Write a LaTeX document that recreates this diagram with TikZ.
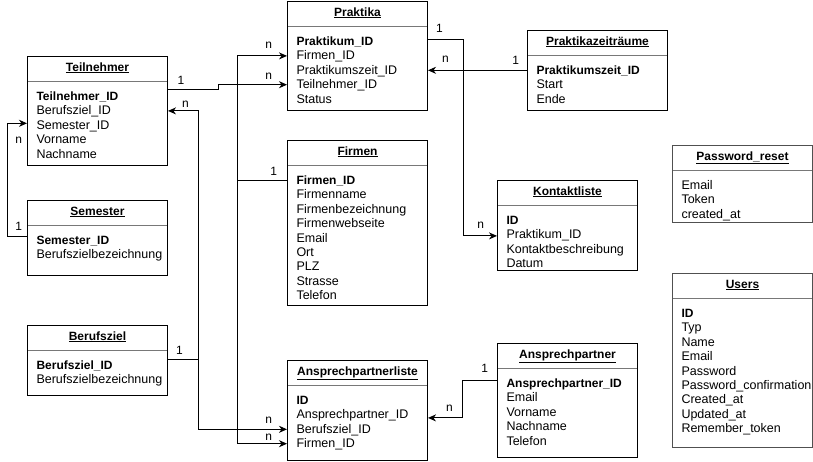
\documentclass[tikz,border=0pt]{standalone}
\usepackage{fontspec}
\setmainfont{Liberation Sans}
\usetikzlibrary{arrows.meta,positioning}
\definecolor{sepgray}{RGB}{120,120,120}
\definecolor{boxgray}{RGB}{80,80,80}
\newcommand{\pkey}[1]{{\fontsize{12}{14}\selectfont\bfseries #1}}

\begin{document}
\begin{tikzpicture}[x=1pt, y=-1pt, line width=1pt,
  font=\fontsize{12}{14}\selectfont,
  table/.style={draw, anchor=north west, minimum width=140pt, inner sep=0pt},
  title/.style={inner sep=0pt, text height=9pt, text depth=3pt, font=\fontsize{12}{14}\selectfont\bfseries},
  field/.style={anchor=west, inner sep=0pt, text height=9pt, text depth=3pt, font=\fontsize{12.5}{14}\selectfont},
  sep/.style={sepgray, line width=0.8pt},
  rel/.style={-{Stealth[length=8pt, width=7pt, inset=2.5pt]}},
  card/.style={inner sep=0pt, text height=9pt, text depth=0pt}]

  \useasboundingbox (0,0) rectangle (813,461);

  % ---------------- tables ----------------
  \node[table, minimum height=109pt] (praktika) at (287,1) {};
  \node[title] (praktika-t) at ([yshift=-12pt]praktika.north) {\underline{Praktika}};
  \foreach \f [count=\i] in {\pkey{Praktikum\_ID}, Firmen\_ID, Praktikumszeit\_ID, Teilnehmer\_ID, Status}
    \node[field] (praktika-\i) at ([xshift=9pt, yshift={-41.5pt-(\i-1)*14.4pt}]praktika.north west) {\f};

  \node[table, minimum height=109pt] (teilnehmer) at (27,56) {};
  \node[title] (teilnehmer-t) at ([yshift=-12pt]teilnehmer.north) {\underline{Teilnehmer}};
  \foreach \f [count=\i] in {\pkey{Teilnehmer\_ID}, Berufsziel\_ID, Semester\_ID, Vorname, Nachname}
    \node[field] (teilnehmer-\i) at ([xshift=9pt, yshift={-41.5pt-(\i-1)*14.4pt}]teilnehmer.north west) {\f};

  \node[table, minimum height=75pt] (semester) at (27,200) {};
  \node[title] (semester-t) at ([yshift=-12pt]semester.north) {\underline{Semester}};
  \foreach \f [count=\i] in {\pkey{Semester\_ID}, Berufszielbezeichnung}
    \node[field] (semester-\i) at ([xshift=9pt, yshift={-41.5pt-(\i-1)*14.4pt}]semester.north west) {\f};

  \node[table, minimum height=70pt] (berufsziel) at (27,325) {};
  \node[title] (berufsziel-t) at ([yshift=-12pt]berufsziel.north) {\underline{Berufsziel}};
  \foreach \f [count=\i] in {\pkey{Berufsziel\_ID}, Berufszielbezeichnung}
    \node[field] (berufsziel-\i) at ([xshift=9pt, yshift={-41.5pt-(\i-1)*14.4pt}]berufsziel.north west) {\f};

  \node[table, minimum height=165pt] (firmen) at (287,140) {};
  \node[title] (firmen-t) at ([yshift=-12pt]firmen.north) {\underline{Firmen}};
  \foreach \f [count=\i] in {\pkey{Firmen\_ID}, Firmenname, Firmenbezeichnung, Firmenwebseite, Email, Ort, PLZ, Strasse, Telefon}
    \node[field] (firmen-\i) at ([xshift=9pt, yshift={-41.5pt-(\i-1)*14.4pt}]firmen.north west) {\f};

  \node[table, minimum height=100pt] (aliste) at (287,360) {};
  \node[title] (aliste-t) at ([yshift=-12pt]aliste.north) {\underline{Ansprechpartnerliste}};
  \foreach \f [count=\i] in {\pkey{ID}, Ansprechpartner\_ID, Berufsziel\_ID, Firmen\_ID}
    \node[field] (aliste-\i) at ([xshift=9pt, yshift={-41.5pt-(\i-1)*14.4pt}]aliste.north west) {\f};

  \node[table, minimum height=80pt] (pzeit) at (527,30) {};
  \node[title] (pzeit-t) at ([yshift=-12pt]pzeit.north) {\underline{Praktikazeiträume}};
  \foreach \f [count=\i] in {\pkey{Praktikumszeit\_ID}, Start, Ende}
    \node[field] (pzeit-\i) at ([xshift=9pt, yshift={-41.5pt-(\i-1)*14.4pt}]pzeit.north west) {\f};

  \node[table, minimum height=90pt] (kontakt) at (497,180) {};
  \node[title] (kontakt-t) at ([yshift=-12pt]kontakt.north) {\underline{Kontaktliste}};
  \foreach \f [count=\i] in {\pkey{ID}, Praktikum\_ID, Kontaktbeschreibung, Datum}
    \node[field] (kontakt-\i) at ([xshift=9pt, yshift={-41.5pt-(\i-1)*14.4pt}]kontakt.north west) {\f};

  \node[table, minimum height=114pt] (apartner) at (497,343) {};
  \node[title] (apartner-t) at ([yshift=-12pt]apartner.north) {\underline{Ansprechpartner}};
  \foreach \f [count=\i] in {\pkey{Ansprechpartner\_ID}, Email, Vorname, Nachname, Telefon}
    \node[field] (apartner-\i) at ([xshift=9pt, yshift={-41.5pt-(\i-1)*14.4pt}]apartner.north west) {\f};

  \node[table, draw=boxgray, minimum height=77pt] (pwreset) at (672,145) {};
  \node[title] (pwreset-t) at ([yshift=-12pt]pwreset.north) {\underline{Password\_reset}};
  \foreach \f [count=\i] in {Email, Token, created\_at}
    \node[field] (pwreset-\i) at ([xshift=9pt, yshift={-41.5pt-(\i-1)*14.4pt}]pwreset.north west) {\f};

  \node[table, draw=boxgray, minimum height=174pt] (users) at (672,273) {};
  \node[title] (users-t) at ([yshift=-12pt]users.north) {\underline{Users}};
  \foreach \f [count=\i] in {\pkey{ID}, Typ, Name, Email, Password, Password\_confirmation, Created\_at, Updated\_at, Remember\_token}
    \node[field] (users-\i) at ([xshift=9pt, yshift={-41.5pt-(\i-1)*14.4pt}]users.north west) {\f};

  % header rules
  \foreach \t in {praktika, teilnehmer, semester, berufsziel, firmen, aliste, pzeit, kontakt, apartner, pwreset, users}
    \draw[sep] ([xshift=1pt, yshift=-25pt]\t.north west) -- ([xshift=-1pt, yshift=-25pt]\t.north east);

  % ---------------- relations ----------------
  % Teilnehmer -> Praktika
  \draw[rel] ([yshift=8pt]teilnehmer-1.west -| teilnehmer.east) node[card, above right=5pt and 9pt] (c1) {1}
    -- ++(50,0) |- ([yshift=1pt]praktika-4.west -| praktika.west) node[card, above left=4.5pt and 14.5pt] (c2) {n};
  % Firmen -> Praktika, Ansprechpartnerliste
  \draw ([yshift=1pt]firmen-1.west -| firmen.west) node[card, above left=4.5pt and 9.5pt] (c3) {1}
    -- ++(-50,0) coordinate (fbus);
  \draw[rel] (fbus) |- ([yshift=1pt]praktika-2.west -| praktika.west) node[card, above left=6.5pt and 14.5pt] (c4) {n};
  \draw[rel] (fbus) |- ([yshift=1pt]aliste-4.west -| aliste.west) node[card, above left=2.5pt and 14.5pt] (c5) {n};
  % Berufsziel -> Teilnehmer, Ansprechpartnerliste
  \draw ([yshift=7pt]berufsziel-1.west -| berufsziel.east) node[card, above right=4.5pt and 7.5pt] (c6) {1}
    -- ++(30,0) coordinate (bbus);
  \draw[rel] (bbus) |- ([yshift=1pt]teilnehmer-2.west -| teilnehmer.east) node[card, above right=2.5pt and 13.5pt] (c7) {n};
  \draw[rel] (bbus) |- ([yshift=1pt]aliste-3.west -| aliste.west) node[card, above left=5.5pt and 14.5pt] (c8) {n};
  % Semester -> Teilnehmer
  \draw[rel] ([yshift=5pt]semester-1.west -| semester.west) node[card, above left=5.5pt and 4.5pt] (c9) {1}
    -- ++(-20,0) |- ([yshift=3pt]teilnehmer-3.west -| teilnehmer.west) node[card, below left=10.5pt and 4.5pt] (c10) {n};
  % Praktika -> Kontaktliste
  \draw[rel] ([yshift=3pt]praktika-1.west -| praktika.east) node[card, above right=6.5pt and 7.5pt] (c11) {1}
    -- ++(35,0) |- (kontakt-2.west -| kontakt.west) node[card, above left=6.5pt and 12.5pt] (c12) {n};
  % Praktikazeitraeume -> Praktika
  \draw[rel] ([yshift=1pt]pzeit.west |- praktika-3.west) node[card, above left=5.5pt and 7.5pt] (c13) {1}
    -- ([yshift=1pt]praktika-3.west -| praktika.east) node[card, above right=7.5pt and 13.5pt] (c14) {n};
  % Ansprechpartner -> Ansprechpartnerliste
  \draw[rel] ([yshift=4pt]apartner-1.west -| apartner.west) node[card, above left=7.5pt and 8.5pt] (c15) {1}
    -- ++(-35,0) |- ([yshift=-2pt]aliste-2.west -| aliste.east) node[card, above right=5.5pt and 17.5pt] (c16) {n};

\end{tikzpicture}
\end{document}
